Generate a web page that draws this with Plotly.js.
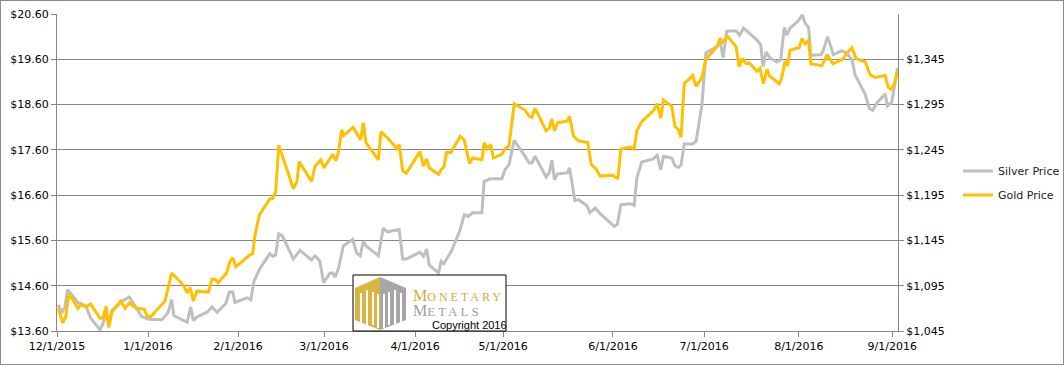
<!DOCTYPE html>
<html>
<head>
<meta charset="utf-8">
<script src="https://cdn.plot.ly/plotly-3.0.1.min.js"></script>
<style>
html,body{margin:0;padding:0;background:#fff;}
#chart{width:1062px;height:363px;border:1px solid #8c8c8c;}
</style>
</head>
<body>
<div id="chart"></div>
<script>
// x = trading-day index from 12/1/2015
const monthTicks  = [0, 20.56, 40.9, 60.33, 80.9, 100.8, 125.6, 146.2, 167.6, 188.7];
const monthLabels = ['12/1/2015','1/1/2016','2/1/2016','3/1/2016','4/1/2016','5/1/2016','6/1/2016','7/1/2016','8/1/2016','9/1/2016'];
const silverTicks = [13.6, 14.6, 15.6, 16.6, 17.6, 18.6, 19.6, 20.6];
const goldTicks   = [1045, 1095, 1145, 1195, 1245, 1295, 1345];

const silverDay = [0.3,1.1,1.8,2.4,3.7,4.8,5.6,6.7,7.6,9.0,
  9.7,10.3,11.1,11.7,12.4,14.6,16.3,17.6,19.1,20.6,
  23.7,25.1,25.9,26.4,28.2,29.4,30.2,30.8,31.6,34.0,
  35.0,36.2,38.2,38.9,39.7,40.2,42.9,43.8,44.5,45.9,
  48.1,48.7,49.4,50.1,50.9,53.4,54.9,57.5,58.3,59.4,
  60.2,61.7,62.3,62.8,63.6,64.7,66.8,67.7,68.5,69.2,
  69.8,72.6,73.7,74.6,77.3,78.1,78.9,82.0,82.8,83.5,
  84.1,86.2,86.8,87.4,89.2,91.1,92.0,92.9,93.9,96.0,
  96.5,97.8,100.5,101.2,102.1,103.3,105.7,106.7,107.3,108.0,
  110.5,111.2,111.8,112.4,113.1,115.3,115.8,117.0,117.8,119.7,
  120.4,121.6,122.7,124.6,125.9,126.6,127.4,129.5,130.4,131.0,
  132.1,134.7,135.6,136.4,137.0,138.9,139.6,140.4,141.0,141.7,
  143.6,144.4,145.7,146.6,149.1,149.8,150.5,151.3,153.4,154.2,
  155.1,158.1,159.0,159.5,160.2,161.1,162.6,163.5,164.3,164.9,
  165.6,167.5,168.4,169.0,169.8,170.3,172.6,173.1,174.1,175.4,
  177.3,178.4,179.6,180.3,182.6,183.5,184.3,185.2,187.1,
  187.6,188.6,189.9];
const silverPrice = [14.18,14.00,14.14,14.51,14.36,14.22,14.20,14.11,13.89,13.72,
  13.63,13.74,14.00,13.75,14.05,14.25,14.35,14.16,13.92,13.86,
  13.85,14.01,14.29,13.94,13.85,13.79,14.13,13.83,13.91,14.02,
  14.13,14.01,14.22,14.46,14.46,14.23,14.33,14.29,14.70,14.99,
  15.31,15.25,15.28,15.75,15.70,15.19,15.38,15.17,15.26,15.14,
  14.67,14.88,14.88,14.79,14.99,15.48,15.62,15.32,15.26,15.58,
  15.48,15.26,15.87,15.79,15.84,15.19,15.19,15.34,15.25,15.41,
  15.06,14.88,15.14,15.09,15.38,15.84,16.17,16.13,16.21,16.21,
  16.90,16.96,16.96,17.16,17.27,17.81,17.46,17.31,17.31,17.46,
  17.00,17.09,17.37,16.94,17.07,17.09,17.20,16.48,16.50,16.37,
  16.21,16.32,16.19,16.02,15.91,15.96,16.39,16.41,16.37,16.98,
  17.33,17.40,17.48,17.16,17.46,17.42,17.25,17.21,17.27,17.73,
  17.73,17.79,18.60,19.74,19.88,19.99,19.64,20.22,20.23,20.13,
  20.29,20.03,19.92,19.44,19.76,19.63,19.54,19.59,20.30,20.13,
  20.29,20.45,20.58,20.40,20.30,19.69,19.70,19.79,20.10,19.70,
  19.79,19.74,19.59,19.26,18.82,18.52,18.47,18.63,18.84,
  18.57,18.65,19.41];

const goldDay = [0.3,1.3,2.0,2.6,3.5,4.7,5.4,6.7,7.6,9.7,
  10.3,11.1,11.7,12.4,14.4,15.4,16.3,18.0,19.7,20.4,
  21.2,24.4,25.9,28.5,29.4,30.1,30.8,31.6,34.2,35.0,
  35.7,36.4,38.3,39.1,39.7,40.4,43.6,44.2,44.7,45.7,
  48.1,48.7,49.4,50.1,53.4,54.2,54.7,57.5,58.3,59.6,
  60.3,62.3,63.0,63.6,64.3,64.8,66.9,68.6,69.2,69.8,
  72.6,73.2,74.9,76.8,77.3,78.1,78.9,82.0,82.8,83.5,
  84.1,86.2,86.8,87.4,88.0,89.0,91.1,92.0,93.2,93.9,
  96.0,96.5,97.2,98.0,98.6,100.5,101.4,102.1,103.3,105.7,
  106.7,107.3,108.0,110.5,111.2,111.8,112.4,113.1,114.4,115.3,
  115.8,116.7,117.8,119.9,120.7,121.9,122.7,125.6,126.7,127.4,
  129.5,130.4,131.0,132.1,134.7,135.6,136.4,137.0,138.9,139.6,
  140.4,141.0,141.7,143.6,144.4,145.7,146.6,147.5,149.1,149.8,
  150.4,151.5,153.4,154.1,154.9,155.7,156.4,158.1,158.8,159.6,
  160.4,160.9,163.2,163.7,164.5,165.1,165.6,167.7,168.3,169.0,
  169.8,170.3,172.8,174.0,175.3,177.5,178.3,179.6,180.5,182.6,
  183.7,184.8,187.1,187.8,188.4,189.1,189.9];
const goldPrice = [1070,1054,1061,1085,1080,1070,1074,1072,1075,1059,
  1059,1072,1049,1066,1078,1070,1076,1070,1069,1061,
  1061,1078,1109,1096,1087,1093,1078,1089,1088,1102,
  1102,1098,1109,1122,1126,1116,1129,1130,1150,1173,
  1191,1191,1198,1250,1202,1210,1232,1210,1227,1234,
  1225,1240,1233,1243,1267,1261,1270,1256,1275,1253,
  1234,1265,1257,1246,1251,1222,1219,1243,1227,1235,
  1225,1218,1223,1226,1242,1242,1260,1256,1230,1236,
  1234,1253,1246,1251,1236,1240,1247,1249,1296,1289,
  1282,1281,1291,1266,1269,1279,1266,1275,1276,1277,
  1282,1260,1255,1253,1229,1223,1216,1217,1213,1246,
  1248,1246,1266,1276,1288,1296,1280,1300,1293,1271,
  1267,1259,1318,1327,1315,1325,1345,1350,1359,1368,
  1364,1370,1359,1337,1346,1340,1341,1332,1335,1318,
  1334,1327,1318,1324,1343,1338,1355,1358,1368,1362,
  1366,1340,1338,1350,1340,1345,1351,1358,1346,1342,
  1328,1325,1327,1314,1312,1317,1332];

// plot area in page pixels: x 57..898, y 14..331 (div has a 1px border)
const M = {l:56, t:13, r:165, b:33, autoexpand:false};
const PW = 841, PH = 317;
function fx(p){ return (p - 1 - M.l) / PW; }
function fy(p){ return 1 - (p - 1 - M.t) / PH; }
function pathOf(pts){ return 'M ' + pts.map(q => fx(q[0]).toFixed(4) + ' ' + fy(q[1]).toFixed(4)).join(' L ') + ' Z'; }

const gridCol = '#868686';
const tickFont = {family:'DejaVu Sans, Verdana, sans-serif', size:11, color:'#000'};
const goldCol = '#FFC000', silverCol = '#BFBFBF';

const traces = [
  {x: silverDay, y: silverPrice, name: 'Silver Price', type:'scatter', mode:'lines',
   line:{color: silverCol, width:3}, yaxis:'y', legend:'legend'},
  {x: goldDay, y: goldPrice, name: 'Gold Price', type:'scatter', mode:'lines',
   line:{color: goldCol, width:3}, yaxis:'y2', legend:'legend2'}
];

// logo decorations
const shapes = [
  {type:'rect', xref:'paper', yref:'paper', x0:fx(353), x1:fx(506), y0:fy(331), y1:fy(275),
   fillcolor:'#fff', line:{color:'#000', width:1}, layer:'above'},
  {type:'path', xref:'paper', yref:'paper', path: pathOf([[355,288],[380,277],[380,330],[355,320]]),
   fillcolor:'#D9B443', line:{width:0}, layer:'above'},
  {type:'path', xref:'paper', yref:'paper', path: pathOf([[380,277],[406,288],[406,320],[380,330]]),
   fillcolor:'#A6A6A6', line:{width:0}, layer:'above'}
];
[[360,293,325],[366,290,327],[372,292,325],[377,294,328],[383,294,328],[388,292,325],[394,290,327],[400,293,325]].forEach(b => {
  shapes.push({type:'rect', xref:'paper', yref:'paper', x0:fx(b[0]), x1:fx(b[0]+2), y0:fy(b[2]), y1:fy(b[1]),
    fillcolor:'#fff', line:{width:0}, layer:'above'});
});

const annotations = [
  {xref:'paper', yref:'paper', x:fx(411), y:fy(295), xanchor:'left', yanchor:'middle', showarrow:false,
   text:'M<span style="font-size:12px;letter-spacing:3px">ONETARY</span>',
   font:{family:'Liberation Serif, DejaVu Serif, serif', size:16, color:'#D4AC3A'}},
  {xref:'paper', yref:'paper', x:fx(411), y:fy(310), xanchor:'left', yanchor:'middle', showarrow:false,
   text:'M<span style="font-size:13px;letter-spacing:3px">ETALS</span>',
   font:{family:'Liberation Serif, DejaVu Serif, serif', size:16, color:'#A0A0A0'}},
  {xref:'paper', yref:'paper', x:fx(430), y:fy(325), xanchor:'left', yanchor:'middle', showarrow:false,
   text:'Copyright 2016',
   font:{family:'Liberation Sans, Arial, sans-serif', size:11, color:'#000'}}
];

const legendBase = {xanchor:'left', yanchor:'middle', bgcolor:'rgba(0,0,0,0)', borderwidth:0,
  font:{family:'DejaVu Sans, Verdana, sans-serif', size:11, color:'#222'}};

const layout = {
  width:1062, height:363, margin:M,
  paper_bgcolor:'#fff', plot_bgcolor:'#fff',
  showlegend:true, hovermode:false,
  xaxis:{range:[0,190], tickvals:monthTicks, ticktext:monthLabels, ticks:'outside', ticklen:5,
    tickcolor:gridCol, showline:true, linecolor:gridCol, linewidth:1, showgrid:false, zeroline:false,
    tickfont:tickFont, fixedrange:true, automargin:false},
  yaxis:{range:[13.6,20.6], tickvals:silverTicks, ticktext:silverTicks.map(v => '$' + v.toFixed(2)),
    ticks:'outside', ticklen:5, tickcolor:gridCol, showline:true, linecolor:gridCol, linewidth:1,
    showgrid:true, gridcolor:gridCol, gridwidth:1, zeroline:false, tickfont:tickFont, fixedrange:true,
    automargin:false},
  yaxis2:{overlaying:'y', side:'right', range:[1045,1395], tickvals:goldTicks,
    ticktext:goldTicks.map(v => '$' + v.toLocaleString('en-US')),
    ticks:'outside', ticklen:5, tickcolor:gridCol, showline:true, linecolor:gridCol, linewidth:1,
    showgrid:false, zeroline:false, tickfont:tickFont, fixedrange:true, automargin:false},
  legend: Object.assign({x:fx(958), y:fy(171)}, legendBase),
  legend2: Object.assign({x:fx(958), y:fy(195)}, legendBase),
  shapes: shapes,
  annotations: annotations
};

Plotly.newPlot('chart', traces, layout, {displayModeBar:false, staticPlot:true});
</script>
</body>
</html>
